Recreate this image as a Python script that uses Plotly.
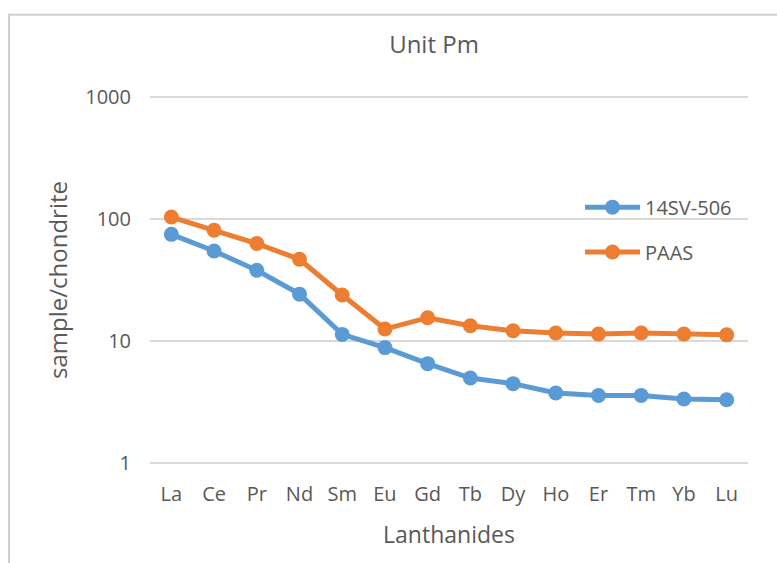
import plotly.graph_objects as go

# Rare earth elements, chondrite-normalised
elements = ["La", "Ce", "Pr", "Nd", "Sm", "Eu", "Gd", "Tb", "Dy", "Ho", "Er", "Tm", "Yb", "Lu"]
sample_14sv506 = [75, 54.7, 38, 24.2, 11.3, 8.8, 6.5, 4.95, 4.45, 3.73, 3.56, 3.56, 3.33, 3.28]
paas = [104, 81, 63, 46.8, 23.8, 12.5, 15.5, 13.3, 12.1, 11.6, 11.4, 11.6, 11.4, 11.2]
y_ticks = [1, 10, 100, 1000]

blue = "#5b9bd5"
orange = "#ed7d31"
text_col = "#595959"
font_family = "Open Sans, Lato, sans-serif"

fig = go.Figure()
fig.add_trace(go.Scatter(
    x=elements, y=sample_14sv506, name="14SV-506", mode="lines+markers",
    line=dict(color=blue, width=5), marker=dict(color=blue, size=15),
    legend="legend", showlegend=True,
))
fig.add_trace(go.Scatter(
    x=elements, y=paas, name="PAAS", mode="lines+markers",
    line=dict(color=orange, width=5), marker=dict(color=orange, size=15),
    legend="legend2", showlegend=True,
))

W, H = 777, 563
# pixel frame of the 1..1000 decade span
x_left, x_right = 150, 748
y_top, y_bottom = 97, 463
pad_dec = 0.02  # small extra range so the edge gridlines are drawn
dec_px = (y_bottom - y_top) / 3.0
L, R = x_left, W - x_right
T = y_top - pad_dec * dec_px
B = H - y_bottom - pad_dec * dec_px
pw, ph = W - L - R, H - T - B

def px_x(x):
    return (x - L) / pw

def px_y(y):
    return (H - B - y) / ph

legend_common = dict(
    bgcolor="rgba(0,0,0,0)", font=dict(size=20, color=text_col, family=font_family),
    itemwidth=55, xanchor="left", yanchor="middle", borderwidth=0,
)

fig.update_layout(
    width=W, height=H,
    margin=dict(l=L, r=R, t=T, b=B),
    paper_bgcolor="white", plot_bgcolor="white",
    showlegend=True,
    font=dict(family=font_family, color=text_col),
    title=dict(text="Unit Pm", x=px_x(434), xref="paper", xanchor="center",
               y=1 - 45 / H, yanchor="middle", font=dict(size=24, color=text_col)),
    xaxis=dict(
        type="category", range=[-0.5, 13.5], showgrid=False, showline=False,
        ticks="", tickfont=dict(size=20, color=text_col), ticklabelstandoff=15,
        title=dict(text="Lanthanides", font=dict(size=23, color=text_col), standoff=20),
    ),
    yaxis=dict(
        type="log", range=[-pad_dec, 3 + pad_dec], tickvals=y_ticks,
        ticktext=[str(v) for v in y_ticks],
        showgrid=True, gridcolor="#d9d9d9", gridwidth=1.5, zeroline=False,
        showline=False, ticks="", tickfont=dict(size=20, color=text_col),
        ticklabelstandoff=18,
        title=dict(text="sample/chondrite", font=dict(size=24, color=text_col), standoff=10),
    ),
    legend=dict(x=px_x(580), y=px_y(207), **legend_common),
    legend2=dict(x=px_x(580), y=px_y(252), **legend_common),
    shapes=[
        dict(type="rect", xref="paper", yref="paper",
             x0=px_x(9), x1=px_x(820), y0=px_y(620), y1=px_y(14),
             line=dict(color="#cfcfcf", width=2), fillcolor="rgba(0,0,0,0)", layer="below"),
    ],
)

fig.write_html("out.html")
